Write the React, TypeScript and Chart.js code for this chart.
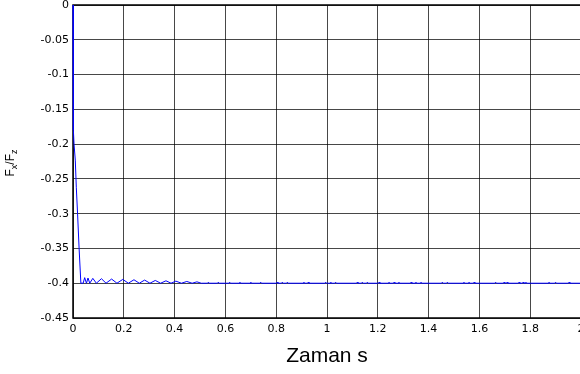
import React, { useEffect, useRef } from "react";
import { Chart, registerables } from "chart.js";

Chart.register(...registerables);

// ---- data ----
const xTicks = [0, 0.2, 0.4, 0.6, 0.8, 1, 1.2, 1.4, 1.6, 1.8, 2];
const yTicks = [0, -0.05, -0.1, -0.15, -0.2, -0.25, -0.3, -0.35, -0.4, -0.45];

// initial drop and decaying ripples (time in s, Fx/Fz)
const earlyTime = [
  0, 0.001, 0.002, 0.004, 0.009, 0.013, 0.018, 0.024, 0.031,
  0.040, 0.046, 0.053, 0.059, 0.066, 0.078, 0.092, 0.112, 0.130, 0.152, 0.173,
  0.196, 0.218, 0.240, 0.261, 0.282, 0.303, 0.324, 0.345, 0.366, 0.386,
  0.405, 0.427, 0.448, 0.469, 0.488, 0.505,
];
const earlyRatio = [
  0, -0.1, -0.18, -0.2, -0.223, -0.262, -0.3, -0.35, -0.4,
  -0.4, -0.392, -0.4, -0.3925, -0.4, -0.393, -0.4, -0.3935, -0.4, -0.394, -0.4,
  -0.3945, -0.4, -0.395, -0.4, -0.3955, -0.4, -0.396, -0.4, -0.3965, -0.4,
  -0.397, -0.4, -0.3975, -0.4, -0.398, -0.4,
];

// tiny residual blips along the steady value
const blipTimes = [
  0.533, 0.572, 0.617, 0.657, 0.7, 0.739, 0.804, 0.824, 0.844, 0.909, 0.926,
  0.995, 1.015, 1.034, 1.119, 1.139, 1.159, 1.205, 1.244, 1.264, 1.283,
  1.331, 1.35, 1.37, 1.454, 1.474, 1.539, 1.559, 1.579, 1.664, 1.697, 1.709,
  1.756, 1.772, 1.783, 1.874, 1.9, 1.953,
];
const steadyRatio = -0.4;
const blipRatio = -0.3985;
const endTime = 2;

const fmt = (v: number) => String(Number(Number(v).toFixed(2)));

export default function App() {
  const ref = useRef<HTMLCanvasElement | null>(null);

  useEffect(() => {
    if (!ref.current) return;
    const pts: { x: number; y: number }[] = earlyTime.map((t, i) => ({ x: t, y: earlyRatio[i] }));
    blipTimes.forEach((t) => {
      pts.push({ x: t - 0.003, y: steadyRatio });
      pts.push({ x: t, y: blipRatio });
      pts.push({ x: t + 0.003, y: steadyRatio });
    });
    pts.push({ x: endTime, y: steadyRatio });

    const frame = {
      id: "frame",
      beforeDatasetsDraw(chart: any) {
        const { ctx, chartArea } = chart;
        const { left, right, top, bottom } = chartArea;
        ctx.save();
        ctx.strokeStyle = "#000";
        ctx.lineWidth = 1.5;
        ctx.strokeRect(left, top, right - left, bottom - top);
        ctx.restore();
      },
      afterDraw(chart: any) {
        const { ctx } = chart;
        ctx.save();
        // y-axis label F_x/F_z
        ctx.fillStyle = "#000";
        ctx.translate(13.5, 173);
        ctx.rotate(-Math.PI / 2);
        ctx.textBaseline = "alphabetic";
        const big = '12px "Liberation Sans", Arial, sans-serif';
        const small = '9px "Liberation Sans", Arial, sans-serif';
        const parts: [string, string, number][] = [
          ["F", big, 0],
          ["x", small, 3],
          ["/F", big, 0],
          ["z", small, 3],
        ];
        let total = 0;
        parts.forEach(([t, f]) => {
          ctx.font = f;
          total += ctx.measureText(t).width;
        });
        let x = -total / 2;
        parts.forEach(([t, f, dy]) => {
          ctx.font = f;
          ctx.fillText(t, x, dy);
          x += ctx.measureText(t).width;
        });
        ctx.restore();
      },
    };

    const gridColor = "rgba(0,0,0,0.72)";
    const tickFont = { family: '"DejaVu Sans", sans-serif', size: 11 };

    const chart = new Chart(ref.current, {
      type: "line",
      data: {
        datasets: [
          {
            data: pts,
            borderColor: "#0000ff",
            borderWidth: 1,
            pointRadius: 0,
            tension: 0,
            fill: false,
            clip: false,
          },
        ],
      },
      plugins: [frame],
      options: {
        animation: false,
        responsive: false,
        devicePixelRatio: 1,
        layout: { padding: { left: 0, right: 39, top: 15, bottom: 0 } },
        plugins: { legend: { display: false }, tooltip: { enabled: false } },
        scales: {
          x: {
            type: "linear",
            min: 0,
            max: 2,
            afterBuildTicks: (s: any) => {
              s.ticks = xTicks.map((v) => ({ value: v }));
            },
            afterFit: (s: any) => {
              s.height = 72;
            },
            grid: { color: gridColor, lineWidth: 1, drawTicks: false },
            border: { display: false },
            ticks: {
              color: "#000",
              font: tickFont,
              padding: 5,
              maxRotation: 0,
              autoSkip: false,
              callback: (v: any) => fmt(v),
            },
            title: {
              display: true,
              text: "Zaman s",
              color: "#000",
              font: { family: '"Liberation Sans", Arial, sans-serif', size: 21 },
              padding: { top: 0, bottom: 21 },
            },
          },
          y: {
            type: "linear",
            min: -0.45,
            max: 0,
            afterBuildTicks: (s: any) => {
              s.ticks = yTicks.map((v) => ({ value: v }));
            },
            afterFit: (s: any) => {
              s.width = 73;
            },
            grid: { color: gridColor, lineWidth: 1, drawTicks: false },
            border: { display: false },
            ticks: {
              color: "#000",
              font: tickFont,
              padding: 4,
              autoSkip: false,
              callback: (v: any) => fmt(v),
            },
          },
        },
      },
    } as any);
    return () => chart.destroy();
  }, []);

  return (
    <div
      style={{
        position: "fixed",
        left: 0,
        top: 0,
        width: 580,
        height: 374,
        overflow: "hidden",
        background: "#fff",
      }}
    >
      <canvas
        ref={ref}
        width={620}
        height={400}
        style={{ position: "absolute", left: 0, top: -10, width: 620, height: 400 }}
      />
    </div>
  );
}
